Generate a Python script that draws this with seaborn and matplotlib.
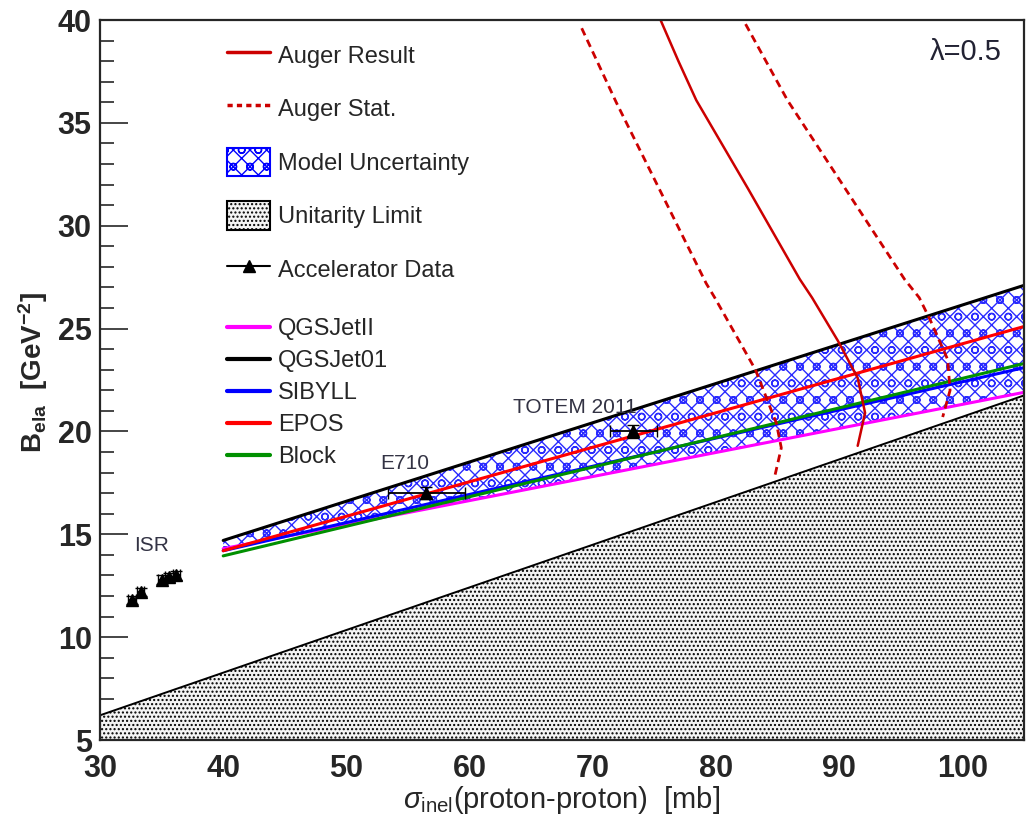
import numpy as np
import pandas as pd
import matplotlib
matplotlib.use("Agg")
import matplotlib.pyplot as plt
import seaborn as sns
from matplotlib.lines import Line2D
from matplotlib.patches import Patch

# ---------------- data ----------------
sigma_model = [40, 105]
qgsjetII = [14.3, 21.9]
qgsjet01 = [14.7, 27.1]
sibyll = [14.2, 23.1]
epos = [14.2, 25.1]
block = [13.95, 23.3]

sigma_unit = [30, 105]
b_unit = [6.2, 21.75]

auger_sigma = [75.5, 76.95, 78.4, 82.6, 86.8, 87.8, 89.9, 91.5, 92.1, 91.5]
auger_B = [40.0, 38.0, 36.1, 31.8, 27.4, 26.5, 24.4, 22.6, 20.9, 19.3]
stat_lo_sigma = [69.1, 71.9, 79.2, 79.9, 83.2, 84.9, 85.3, 84.8]
stat_lo_B = [39.6, 36.0, 27.2, 26.5, 23.0, 20.4, 19.2, 17.9]
stat_hi_sigma = [82.4, 85.8, 95.3, 96.5, 97.4, 98.8, 99.0, 98.4]
stat_hi_B = [39.8, 36.1, 27.4, 26.5, 25.4, 23.5, 22.0, 20.7]

acc_sigma = [32.6, 33.3, 35.0, 35.6, 36.2, 56.5, 73.3]
acc_B = [11.8, 12.2, 12.8, 12.9, 13.0, 17.0, 20.0]
acc_sigma_err = [0.3, 0.3, 0.3, 0.3, 0.3, 3.1, 1.9]
acc_B_err = [0.2, 0.2, 0.2, 0.2, 0.2, 0.3, 0.3]

model_names = ["QGSJetII", "QGSJet01", "SIBYLL", "EPOS", "Block"]
model_colors = ["#ff00ff", "#000000", "#0000ff", "#ff0000", "#009000"]
model_values = [qgsjetII, qgsjet01, sibyll, epos, block]

# ---------------- style ----------------
sns.set_style("ticks")
plt.rcParams['font.family'] = ['Liberation Sans', 'DejaVu Sans']
plt.rcParams['mathtext.fontset'] = 'custom'
plt.rcParams['mathtext.rm'] = 'Liberation Sans'
plt.rcParams['mathtext.it'] = 'Liberation Sans:italic'
plt.rcParams['mathtext.bf'] = 'Liberation Sans:bold'
plt.rcParams['hatch.linewidth'] = 1.0

fig = plt.figure(figsize=(10.27, 8.22), dpi=100)
ax = fig.add_axes([100/1027, 1-740/822, 924/1027, 720/822])
ax.set_xlim(30, 105)
ax.set_ylim(5, 40)

UNIT_HATCH = "...."
BAND_HATCH = "xxo"

# unitarity limit
ax.fill_between(sigma_unit, [5, 5], b_unit, facecolor="#f4f4f4", edgecolor="#000000",
                hatch=UNIT_HATCH, linewidth=0, zorder=1)
sns.lineplot(x=sigma_unit, y=b_unit, color="black", lw=1.4, ax=ax, zorder=2)

# model uncertainty band
ax.fill_between(sigma_model, qgsjetII, qgsjet01, facecolor="white", edgecolor="#2a2aff",
                hatch=BAND_HATCH, linewidth=0, zorder=2)

df = pd.DataFrame({
    "sigma": np.tile(sigma_model, len(model_names)),
    "B": np.concatenate([np.asarray(v, float) for v in model_values]),
    "model": np.repeat(model_names, len(sigma_model)),
})
sns.lineplot(data=df, x="sigma", y="B", hue="model", hue_order=model_names,
             palette=model_colors, lw=2.2, ax=ax, legend=False, zorder=3,
             estimator=None)

# Auger
sns.lineplot(x=auger_sigma, y=auger_B, sort=False, estimator=None, color="#cc0000",
             lw=1.8, ax=ax, zorder=4)
for s, b in [(stat_lo_sigma, stat_lo_B), (stat_hi_sigma, stat_hi_B)]:
    sns.lineplot(x=s, y=b, sort=False, estimator=None, color="#cc0000", lw=2.0, ax=ax,
                 zorder=4, linestyle=(0, (2.8, 1.8)))

# accelerator data
ax.errorbar(acc_sigma, acc_B, xerr=acc_sigma_err, yerr=acc_B_err, fmt="^", color="black",
            ms=9, lw=1.3, capsize=4, zorder=6)

# annotations
ax.text(acc_sigma[1] + 0.9, acc_B[-3] + 1.0, "ISR", fontsize=15, color="#333344",
        ha="center", va="bottom")
ax.text(acc_sigma[5] - 1.8, acc_B[5] + 1.0, "E710", fontsize=15, color="#333344",
        ha="center", va="bottom")
ax.text(acc_sigma[6] - 4.8, acc_B[6] + 0.7, "TOTEM 2011", fontsize=15, color="#333344",
        ha="center", va="bottom")
ax.text(0.976, 0.975, "λ=0.5", transform=ax.transAxes, fontsize=21, color="#222233",
        ha="right", va="top")

# axes formatting
ax.set_xticks(np.arange(30, 101, 10))
ax.set_xticks(np.arange(30, 105, 2), minor=True)
ax.set_yticks(np.arange(5, 41, 5))
ax.set_yticks(np.arange(5, 41, 1), minor=True)
ax.tick_params(which="major", direction="in", length=20, width=1.2, labelsize=22,
               top=False, right=False, pad=6)
ax.tick_params(which="minor", direction="in", length=10, width=1.2, top=False, right=False)
ax.tick_params(axis="x", which="major", pad=10)
for lab in ax.get_xticklabels() + ax.get_yticklabels():
    lab.set_fontweight("bold")
for sp in ax.spines.values():
    sp.set_linewidth(1.6)
    sp.set_zorder(10)

ax.set_xlabel(r"$\sigma_{\rm inel}$(proton-proton)  [mb]", fontsize=21, labelpad=0)
ax.set_ylabel(r"B$_{\mathbf{ela}}$  [GeV$^{\mathbf{-2}}$]", fontsize=20, fontweight="bold")
ax.yaxis.set_label_coords(-0.054, 0.51)

# legends
h1 = [
    Line2D([], [], color="#cc0000", lw=2.5),
    Line2D([], [], color="#cc0000", lw=2.5, linestyle=(0, (1.5, 1.2))),
    Patch(facecolor="white", edgecolor="#0000ff", hatch=BAND_HATCH, lw=1.5),
    Patch(facecolor="#f4f4f4", edgecolor="black", hatch=UNIT_HATCH, lw=1.5),
    Line2D([], [], color="black", lw=1.5, marker="^", ms=9),
]
l1 = ["Auger Result", "Auger Stat.", "Model Uncertainty", "Unitarity Limit", "Accelerator Data"]
leg1 = ax.legend(h1, l1, loc="upper left", bbox_to_anchor=(118/924, 1 - 11/720),
                 frameon=False, fontsize=17, labelspacing=1.05, handlelength=1.8,
                 handleheight=1.5, handletextpad=0.35, borderaxespad=0)
ax.add_artist(leg1)
h2 = [Line2D([], [], color=c, lw=3) for c in model_colors]
leg2 = ax.legend(h2, model_names, loc="upper left", bbox_to_anchor=(118/924, 1 - 289/720),
                 frameon=False, fontsize=17, labelspacing=0.42, handlelength=1.8,
                 handletextpad=0.35, borderaxespad=0)

fig.savefig("out.png", dpi=100)
